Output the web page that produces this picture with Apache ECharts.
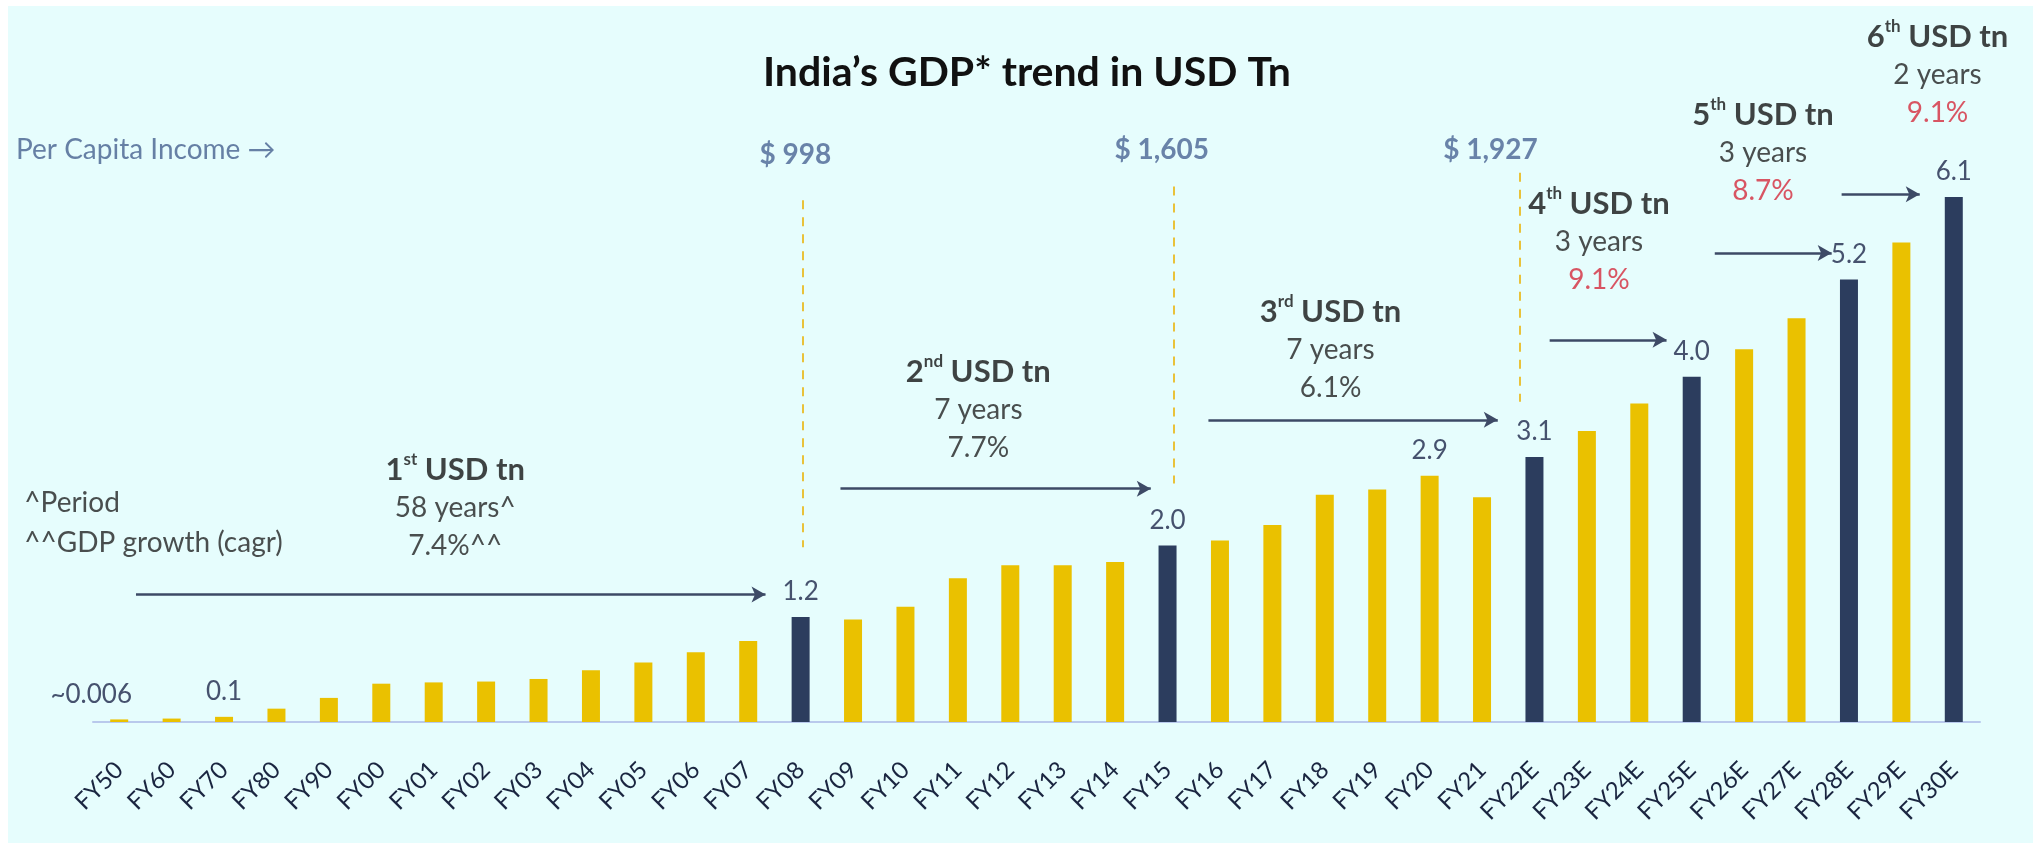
<!DOCTYPE html>
<html>
<head>
<meta charset="utf-8">
<script src="https://cdn.jsdelivr.net/npm/echarts@6/dist/echarts.min.js"></script>
<style>
  html, body { margin: 0; padding: 0; background: #ffffff; }
  #chart { width: 2033px; height: 845px; }
</style>
</head>
<body>
<div id="chart"></div>
<script>
// ---------------- data ----------------
const categories = ['FY50','FY60','FY70','FY80','FY90','FY00','FY01','FY02','FY03','FY04','FY05','FY06','FY07','FY08','FY09','FY10','FY11','FY12','FY13','FY14','FY15','FY16','FY17','FY18','FY19','FY20','FY21','FY22E','FY23E','FY24E','FY25E','FY26E','FY27E','FY28E','FY29E','FY30E'];
const gdpUsdTn = [0.03,0.04,0.06,0.155,0.28,0.445,0.46,0.47,0.50,0.60,0.69,0.81,0.94,1.22,1.19,1.34,1.67,1.82,1.82,1.86,2.05,2.11,2.29,2.64,2.70,2.86,2.61,3.08,3.38,3.70,4.01,4.33,4.69,5.14,5.57,6.10];
const milestoneCats = ['FY08','FY15','FY22E','FY25E','FY28E','FY30E'];
const labelCats = ['FY50','FY70','FY08','FY15','FY20','FY22E','FY25E','FY28E','FY30E'];
const labelTexts = ['~0.006','0.1','1.2','2.0','2.9','3.1','4.0','5.2','6.1'];
const perCapitaTexts = ['$ 998','$ 1,605','$ 1,927'];
const milestoneNumbers = ['1','2','3','4','5','6'];
const milestoneSuffixes = ['st','nd','rd','th','th','th'];
const milestoneYears = ['58 years^','7 years','7 years','3 years','3 years','2 years'];
const milestoneCagr = ['7.4%^^','7.7%','6.1%','9.1%','8.7%','9.1%'];
const titleText = 'India\u2019s GDP* trend in USD Tn';
const perCapitaTitle = 'Per Capita Income \u2192';
const noteLines = ['^Period', '^^GDP growth (cagr)'];

// ---------------- layout (data coordinates: category index, USD tn) ----------------
const blockPos = [[6.41,2.49],[16.39,3.62],[23.11,4.32],[28.23,5.58],[31.36,6.61],[34.69,7.52]];
const arrowPos = [[0.32,12.33,1.48],[13.76,19.68,2.71],[20.78,26.30,3.51],[27.29,29.52,4.44],[30.44,32.67,5.45],[32.86,34.35,6.13]];
const dashPos = [[13.05,6.06,2.03],[20.12,6.22,2.77],[26.72,6.38,3.72]];
const perCapitaPos = [[12.90,6.59],[19.89,6.65],[26.16,6.65]];
const perCapitaTitlePos = [-1.97,6.65];
const notePos = [-1.81,2.31];

// ---------------- styles ----------------
const FONT = 'Lato, "Open Sans", sans-serif';
const YELLOW = '#EAC100';
const NAVY = '#2C3D5E';
const RED = '#D42A3C';

const chart = echarts.init(document.getElementById('chart'), null, { renderer: 'canvas' });

const barData = gdpUsdTn.map((v, i) => {
  const cat = categories[i];
  const item = { value: v, itemStyle: { color: milestoneCats.includes(cat) ? NAVY : YELLOW } };
  const li = labelCats.indexOf(cat);
  if (li >= 0) {
    item.label = { show: true, formatter: labelTexts[li] };
    if (cat === 'FY50') item.label.offset = [-28, 0];
  }
  return item;
});

const annotData = [];
milestoneNumbers.forEach((n, i) => {
  annotData.push({
    value: blockPos[i],
    label: {
      show: true,
      position: 'inside',
      formatter: '{h|' + n + '}{s|' + milestoneSuffixes[i] + '}{h| USD tn}\n{n|' + milestoneYears[i] + '}\n{' + (i >= 3 ? 'r' : 'n') + '|' + milestoneCagr[i] + '}',
      rich: {
        h: { fontFamily: FONT, fontSize: 31, fontWeight: 'bold', color: '#141414', lineHeight: 38 },
        s: { fontFamily: FONT, fontSize: 17, fontWeight: 'bold', color: '#141414', verticalAlign: 'top', lineHeight: 28 },
        n: { fontFamily: FONT, fontSize: 28, color: '#222222', lineHeight: 38 },
        r: { fontFamily: FONT, fontSize: 28, color: RED, lineHeight: 38 }
      }
    }
  });
});
perCapitaTexts.forEach((t, i) => {
  annotData.push({
    value: perCapitaPos[i],
    label: { show: true, position: 'inside', formatter: t, fontFamily: FONT, fontSize: 28, fontWeight: 'bold', color: '#4A6494' }
  });
});
annotData.push({
  value: perCapitaTitlePos,
  label: { show: true, position: 'inside', align: 'left', formatter: perCapitaTitle, fontFamily: FONT, fontSize: 28, color: '#46608F' }
});
annotData.push({
  value: notePos,
  label: { show: true, position: 'inside', align: 'left', formatter: noteLines.join('\n'), fontFamily: FONT, fontSize: 28, color: '#222222', lineHeight: 40 }
});

const markLines = [];
arrowPos.forEach(a => {
  markLines.push([
    { coord: [a[0], a[2]], symbol: 'none', lineStyle: { color: '#3D4A66', width: 2.5, type: 'solid' } },
    { coord: [a[1], a[2]], symbol: 'arrow', symbolSize: [12, 14] }
  ]);
});
dashPos.forEach(d => {
  markLines.push([
    { coord: [d[0], d[1]], symbol: 'none', lineStyle: { color: '#E9C23A', width: 2, type: [9, 8] } },
    { coord: [d[0], d[2]], symbol: 'none' }
  ]);
});

const option = {
  animation: false,
  backgroundColor: '#ffffff',
  graphic: [
    { type: 'rect', left: 8, top: 6, shape: { width: 2025, height: 837 }, style: { fill: '#E6FDFD' }, z: -10, silent: true },
    { type: 'text', x: 1027, y: 73, style: { text: titleText, font: 'bold 41px ' + FONT, fill: '#111111', textAlign: 'center', textVerticalAlign: 'middle' }, silent: true }
  ],
  grid: { left: 93, right: 53, top: 162.5, bottom: 123, containLabel: false },
  xAxis: [
    {
      type: 'category',
      data: categories,
      axisLine: { show: true, lineStyle: { color: '#B9C9EC', width: 2 } },
      axisTick: { show: false },
      axisLabel: { rotate: 45, margin: 44, fontFamily: FONT, fontSize: 24, color: '#1A2540', interval: 0 }
    },
    { type: 'value', min: -0.5, max: categories.length - 0.5, show: false }
  ],
  yAxis: { type: 'value', min: 0, max: 6.5, show: false, splitLine: { show: false } },
  series: [
    {
      type: 'bar',
      data: barData,
      barWidth: 18,
      silent: true,
      label: { show: false, position: 'top', distance: 12, fontFamily: FONT, fontSize: 26, color: '#46526E' }
    },
    {
      type: 'scatter',
      xAxisIndex: 1,
      yAxisIndex: 0,
      symbolSize: 0,
      silent: true,
      clip: false,
      data: annotData,
      markLine: {
        silent: true,
        animation: false,
        label: { show: false },
        emphasis: { disabled: true },
        symbolSize: [12, 14],
        data: markLines
      }
    }
  ]
};
chart.setOption(option);
</script>
</body>
</html>
